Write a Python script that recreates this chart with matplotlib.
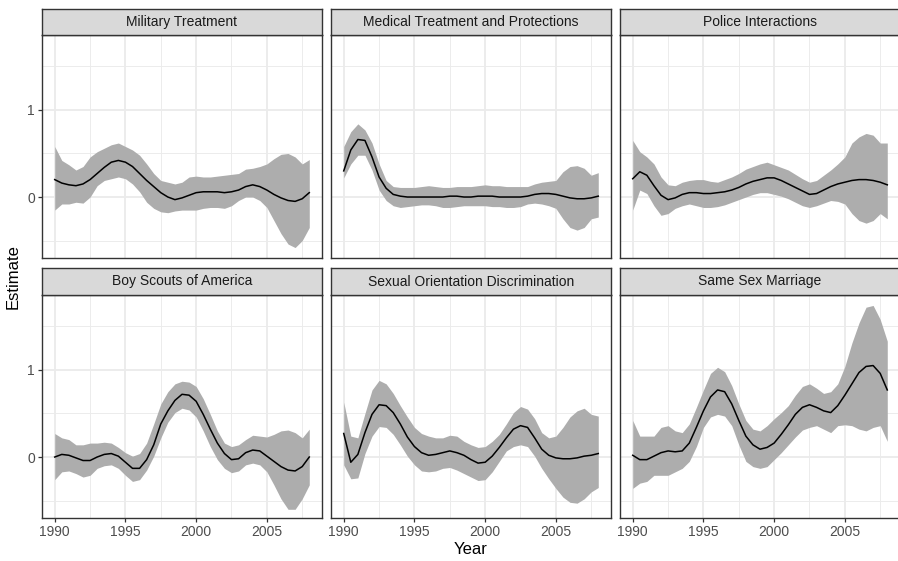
import numpy as np
import matplotlib
matplotlib.use("Agg")
import matplotlib.pyplot as plt

plt.rcParams["font.family"] = ["Liberation Sans", "DejaVu Sans"]

# Half-year grid the values were read at
years = np.arange(1990, 2008.01, 0.5)

titles = [
    "Military Treatment", "Medical Treatment and Protections", "Police Interactions",
    "Boy Scouts of America", "Sexual Orientation Discrimination", "Same Sex Marriage",
]

mil_est = [0.20, 0.16, 0.14, 0.13, 0.15, 0.20, 0.27, 0.34, 0.40, 0.42, 0.40, 0.35, 0.27, 0.19, 0.12, 0.05, 0.00, -0.03, -0.01,
           0.02, 0.05, 0.06, 0.06, 0.06, 0.05, 0.06, 0.08, 0.12, 0.14, 0.12, 0.08, 0.03, -0.01, -0.04, -0.05, -0.02, 0.05]
mil_hi = [0.58, 0.42, 0.37, 0.31, 0.35, 0.46, 0.52, 0.56, 0.60, 0.62, 0.58, 0.54, 0.48, 0.38, 0.27, 0.19, 0.17, 0.15, 0.17,
          0.23, 0.24, 0.23, 0.23, 0.24, 0.25, 0.26, 0.27, 0.32, 0.33, 0.35, 0.38, 0.44, 0.49, 0.50, 0.46, 0.38, 0.43]
mil_lo = [-0.15, -0.08, -0.08, -0.06, -0.07, 0.00, 0.13, 0.19, 0.21, 0.23, 0.21, 0.15, 0.06, -0.06, -0.13, -0.17, -0.18, -0.16, -0.15,
          -0.15, -0.15, -0.13, -0.12, -0.12, -0.13, -0.10, -0.04, 0.00, 0.00, -0.04, -0.12, -0.27, -0.42, -0.54, -0.58, -0.50, -0.35]

med_est = [0.30, 0.54, 0.66, 0.65, 0.46, 0.23, 0.10, 0.03, 0.01, 0.00, 0.00, 0.00, 0.00, 0.00, 0.00, 0.01, 0.01, 0.00, 0.00,
           0.01, 0.01, 0.01, 0.00, 0.00, 0.00, 0.00, 0.01, 0.03, 0.04, 0.04, 0.03, 0.01, -0.01, -0.02, -0.02, -0.01, 0.01]
med_hi = [0.58, 0.75, 0.84, 0.77, 0.62, 0.38, 0.19, 0.12, 0.11, 0.11, 0.11, 0.12, 0.13, 0.12, 0.11, 0.11, 0.12, 0.12, 0.12,
          0.13, 0.14, 0.13, 0.13, 0.12, 0.12, 0.12, 0.12, 0.15, 0.17, 0.18, 0.19, 0.29, 0.35, 0.36, 0.33, 0.25, 0.28]
med_lo = [0.22, 0.38, 0.48, 0.48, 0.31, 0.08, -0.04, -0.10, -0.12, -0.11, -0.10, -0.09, -0.09, -0.10, -0.12, -0.12, -0.11, -0.10, -0.10,
          -0.10, -0.10, -0.11, -0.11, -0.12, -0.12, -0.11, -0.08, -0.07, -0.08, -0.10, -0.13, -0.25, -0.35, -0.38, -0.35, -0.25, -0.23]

pol_est = [0.21, 0.29, 0.25, 0.13, 0.02, -0.03, -0.01, 0.03, 0.05, 0.05, 0.04, 0.04, 0.05, 0.06, 0.08, 0.11, 0.15, 0.18, 0.20,
           0.22, 0.22, 0.19, 0.15, 0.11, 0.07, 0.03, 0.04, 0.08, 0.12, 0.15, 0.17, 0.19, 0.20, 0.20, 0.19, 0.17, 0.14]
pol_hi = [0.65, 0.52, 0.46, 0.38, 0.23, 0.14, 0.13, 0.17, 0.19, 0.20, 0.20, 0.18, 0.17, 0.20, 0.23, 0.27, 0.32, 0.35, 0.38,
          0.40, 0.37, 0.34, 0.31, 0.26, 0.21, 0.17, 0.19, 0.25, 0.31, 0.38, 0.46, 0.62, 0.69, 0.73, 0.71, 0.62, 0.62]
pol_lo = [-0.15, 0.08, 0.04, -0.10, -0.21, -0.19, -0.13, -0.10, -0.08, -0.10, -0.12, -0.12, -0.11, -0.09, -0.06, -0.03, 0.00, 0.03, 0.05,
          0.05, 0.03, 0.01, -0.02, -0.06, -0.10, -0.12, -0.10, -0.07, -0.04, -0.05, -0.08, -0.19, -0.27, -0.30, -0.27, -0.19, -0.25]

bsa_est = [0.00, 0.03, 0.02, -0.01, -0.04, -0.04, 0.00, 0.03, 0.04, 0.01, -0.06, -0.13, -0.13, -0.03, 0.14, 0.38, 0.53, 0.65, 0.72,
           0.71, 0.64, 0.49, 0.32, 0.16, 0.04, -0.03, -0.02, 0.05, 0.08, 0.07, 0.01, -0.05, -0.11, -0.15, -0.16, -0.11, 0.00]
bsa_hi = [0.27, 0.22, 0.20, 0.14, 0.14, 0.16, 0.16, 0.17, 0.16, 0.11, 0.05, 0.01, 0.04, 0.16, 0.38, 0.61, 0.75, 0.84, 0.87,
          0.86, 0.81, 0.67, 0.49, 0.30, 0.16, 0.12, 0.14, 0.20, 0.25, 0.24, 0.23, 0.26, 0.30, 0.31, 0.28, 0.22, 0.32]
bsa_lo = [-0.26, -0.17, -0.16, -0.19, -0.23, -0.21, -0.13, -0.10, -0.09, -0.13, -0.21, -0.28, -0.26, -0.15, 0.01, 0.22, 0.40, 0.51, 0.56,
          0.54, 0.46, 0.30, 0.12, -0.03, -0.13, -0.18, -0.16, -0.09, -0.07, -0.09, -0.17, -0.32, -0.48, -0.60, -0.60, -0.48, -0.32]

sod_est = [0.27, -0.06, 0.03, 0.28, 0.49, 0.60, 0.59, 0.51, 0.38, 0.23, 0.12, 0.05, 0.02, 0.03, 0.05, 0.07, 0.05, 0.02, -0.03,
           -0.07, -0.06, 0.01, 0.11, 0.22, 0.32, 0.36, 0.34, 0.22, 0.09, 0.02, -0.01, -0.02, -0.02, -0.01, 0.01, 0.02, 0.04]
sod_hi = [0.63, 0.24, 0.22, 0.50, 0.77, 0.88, 0.84, 0.73, 0.59, 0.46, 0.34, 0.27, 0.24, 0.22, 0.22, 0.25, 0.24, 0.18, 0.14,
          0.11, 0.12, 0.18, 0.26, 0.38, 0.51, 0.58, 0.55, 0.44, 0.28, 0.22, 0.24, 0.34, 0.46, 0.53, 0.56, 0.49, 0.47]
sod_lo = [-0.09, -0.25, -0.24, 0.04, 0.24, 0.35, 0.34, 0.26, 0.14, 0.01, -0.09, -0.16, -0.17, -0.16, -0.13, -0.12, -0.15, -0.19, -0.23,
          -0.27, -0.26, -0.17, -0.05, 0.07, 0.12, 0.14, 0.12, 0.01, -0.13, -0.25, -0.36, -0.46, -0.52, -0.53, -0.48, -0.40, -0.35]

ssm_est = [0.02, -0.03, -0.03, 0.01, 0.05, 0.07, 0.06, 0.07, 0.16, 0.34, 0.53, 0.69, 0.77, 0.75, 0.61, 0.42, 0.24, 0.14, 0.09,
           0.11, 0.16, 0.26, 0.37, 0.49, 0.57, 0.60, 0.57, 0.53, 0.51, 0.59, 0.71, 0.84, 0.97, 1.04, 1.05, 0.96, 0.77]
ssm_hi = [0.42, 0.24, 0.24, 0.24, 0.34, 0.36, 0.30, 0.28, 0.38, 0.57, 0.77, 0.96, 1.03, 0.98, 0.82, 0.61, 0.42, 0.32, 0.30,
          0.36, 0.44, 0.51, 0.59, 0.71, 0.81, 0.84, 0.79, 0.73, 0.75, 0.84, 1.04, 1.31, 1.54, 1.72, 1.74, 1.58, 1.33]
ssm_lo = [-0.36, -0.30, -0.28, -0.21, -0.21, -0.21, -0.17, -0.13, -0.05, 0.12, 0.34, 0.46, 0.49, 0.47, 0.36, 0.14, -0.05, -0.11, -0.13,
          -0.11, -0.03, 0.05, 0.14, 0.23, 0.31, 0.34, 0.36, 0.32, 0.28, 0.36, 0.37, 0.36, 0.32, 0.30, 0.34, 0.36, 0.18]

estimates = [mil_est, med_est, pol_est, bsa_est, sod_est, ssm_est]
uppers = [mil_hi, med_hi, pol_hi, bsa_hi, sod_hi, ssm_hi]
lowers = [mil_lo, med_lo, pol_lo, bsa_lo, sod_lo, ssm_lo]

W, H = 898, 561
fig = plt.figure(figsize=(W / 100, H / 100), dpi=100)

# panel layout in pixels (left, top of panel, bottom of panel, top of strip)
col_left = [42, 331, 620]
panel_w = 280
rows = [(35, 258, 9), (295, 518, 268)]

for i in range(6):
    r, c = divmod(i, 3)
    top, bot, strip_top = rows[r]
    left = col_left[c]

    ax = fig.add_axes([left / W, 1 - bot / H, panel_w / W, (bot - top) / H])
    ax.set_axisbelow(True)
    ax.fill_between(years, lowers[i], uppers[i], color="#adadad", lw=0, zorder=2)
    ax.plot(years, estimates[i], color="black", lw=1.1, zorder=3)

    ax.set_xlim(1989.1, 2008.9)
    ax.set_ylim(-0.70, 1.86)
    ax.set_xticks([1990, 1995, 2000, 2005])
    ax.set_xticks([1992.5, 1997.5, 2002.5, 2007.5], minor=True)
    ax.set_yticks([0, 1])
    ax.set_yticks([-0.5, 0.5, 1.5], minor=True)
    ax.grid(which="major", color="#ebebeb", lw=1.3)
    ax.grid(which="minor", color="#ebebeb", lw=0.65)
    for s in ax.spines.values():
        s.set_color("#333333")
        s.set_linewidth(1.0)

    ax.tick_params(which="minor", length=0)
    ax.tick_params(which="major", length=3, width=0.9, color="#333333",
                   labelsize=10, labelcolor="#4d4d4d", pad=2)
    if c != 0:
        ax.tick_params(axis="y", length=0, labelleft=False)
    if r == 0:
        ax.tick_params(axis="x", length=0, labelbottom=False)

    # facet strip
    sax = fig.add_axes([left / W, 1 - top / H, panel_w / W, (top - strip_top) / H])
    sax.set_facecolor("#d9d9d9")
    sax.set_xticks([])
    sax.set_yticks([])
    for s in sax.spines.values():
        s.set_color("#333333")
        s.set_linewidth(1.0)
    sax.text(0.5, 0.5, titles[i], ha="center", va="center", fontsize=10,
             color="#1a1a1a", transform=sax.transAxes)

fig.text(13 / W, 1 - 277 / H, "Estimate", rotation=90, ha="center", va="center", fontsize=12)
fig.text(471 / W, 1 - 550 / H, "Year", ha="center", va="center", fontsize=12)

fig.savefig("out.png", dpi=100)
